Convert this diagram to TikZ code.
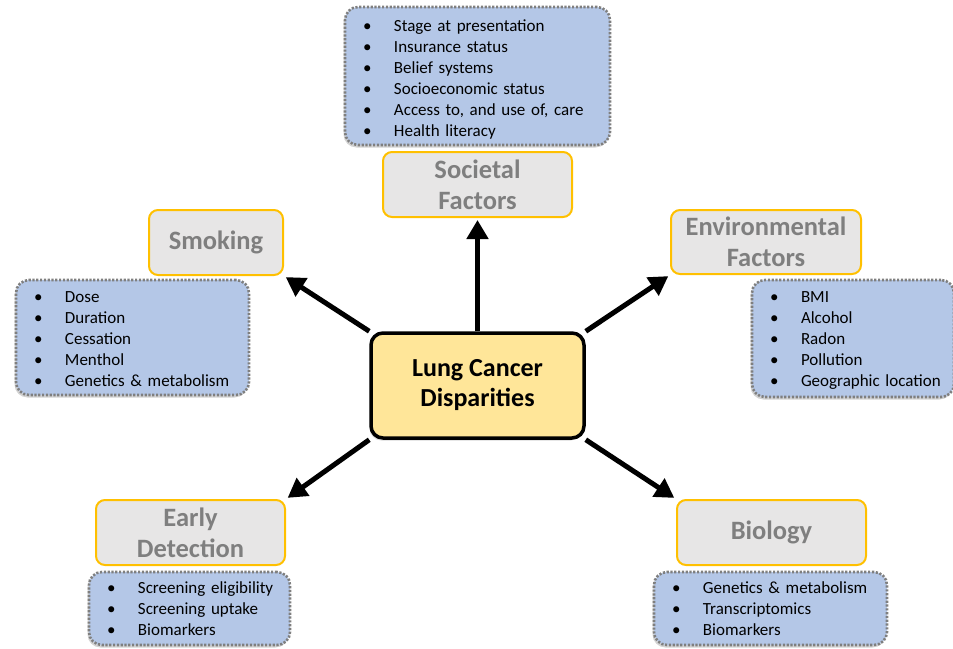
\documentclass[tikz,border=0pt]{standalone}
\usepackage{fontspec}
\setmainfont{Carlito}
\usepackage{tikz}
\usetikzlibrary{arrows.meta,shadows}
\usetikzlibrary{positioning}

\definecolor{listfill}{HTML}{B4C7E7}
\definecolor{listdraw}{HTML}{7F7F7F}
\definecolor{headfill}{HTML}{E7E6E6}
\definecolor{headdraw}{HTML}{FFC000}
\definecolor{headtext}{HTML}{7F7F7F}
\definecolor{corefill}{HTML}{FFE699}

\newcommand{\itm}[1]{\mbox{\makebox[31pt][l]{\textbullet}#1}}

\tikzset{
  headbox/.style={rectangle,rounded corners=9pt,draw=headdraw,line width=2pt,fill=headfill,
    text=headtext,font=\fontsize{26.5}{31}\selectfont\bfseries,align=center,inner sep=0pt},
  listbox/.style={rectangle,rounded corners=13pt,draw=listdraw,line width=2.6pt,
    dash pattern=on 2.2pt off 1.6pt,fill=listfill,font=\fontsize{17}{21}\selectfont,
    align=left,inner xsep=0pt,inner ysep=0pt,
    drop shadow={shadow xshift=-1.5pt,shadow yshift=-2.5pt,opacity=0.35}},
  corebox/.style={rectangle,rounded corners=12pt,draw=black,line width=3.5pt,fill=corefill,
    font=\fontsize{26}{30}\selectfont\bfseries,align=center,inner sep=0pt,
    drop shadow={shadow xshift=-1.5pt,shadow yshift=-2.5pt,opacity=0.3}},
  arr/.style={-{Triangle[length=19pt,width=21pt]},line width=5pt,black,
    shorten <=0pt,shorten >=2pt}
}

\begin{document}
\begin{tikzpicture}[x=1pt,y=1pt]
\useasboundingbox (0,0) rectangle (953,-648);
\node at (477.5,-385.5)[corebox,minimum width=213pt,minimum height=105pt](core){Lung Cancer\\Disparities};

\node at (477.5,-184.5)[headbox,minimum width=189pt,minimum height=65pt](soc){Societal\\Factors};
\node at (216,-242.5)[headbox,minimum width=134pt,minimum height=65pt](smk){Smoking};
\node at (766,-242)[headbox,minimum width=190pt,minimum height=64pt](env){Environmental\\Factors};
\node at (190.5,-532.5)[headbox,minimum width=189pt,minimum height=65pt](det){Early\\Detection};
\node at (771.5,-532.5)[headbox,minimum width=189pt,minimum height=65pt](bio){Biology};

\node at (477.5,-76)[listbox,text width=229pt,minimum width=265pt,minimum height=138pt](soclist){%
\rule{0pt}{18pt}\itm{Stage at presentation}\\
\itm{Insurance status}\\
\itm{Belief systems}\\
\itm{Socioeconomic status}\\
\itm{Access to, and use of, care}\\
\itm{Health literacy}};
\node at (132.5,-337.5)[listbox,text width=197pt,minimum width=233pt,minimum height=115pt](smklist){%
\rule{0pt}{15pt}\itm{Dose}\\
\itm{Duration}\\
\itm{Cessation}\\
\itm{Menthol}\\
\itm{Genetics \& metabolism}};
\node at (853,-338.5)[listbox,text width=166pt,minimum width=202pt,minimum height=117pt](envlist){%
\rule{0pt}{15pt}\itm{BMI}\\
\itm{Alcohol}\\
\itm{Radon}\\
\itm{Pollution}\\
\itm{Geographic location}};
\node at (189.5,-608.5)[listbox,text width=165pt,minimum width=201pt,minimum height=73pt](detlist){%
\itm{Screening eligibility}\\
\itm{Screening uptake}\\
\itm{Biomarkers}};
\node at (770.5,-608.5)[listbox,text width=197pt,minimum width=233pt,minimum height=73pt](biolist){%
\itm{Genetics \& metabolism}\\
\itm{Transcriptomics}\\
\itm{Biomarkers}};

\draw[arr] (core.north) -- (soc.south);
\draw[arr] (core.north west) -- (smk.south east);
\draw[arr] (core.north east) -- (env.south west);
\draw[arr] (core.south west) -- (det.north east);
\draw[arr] (core.south east) -- (bio.north west);
\end{tikzpicture}
\end{document}
